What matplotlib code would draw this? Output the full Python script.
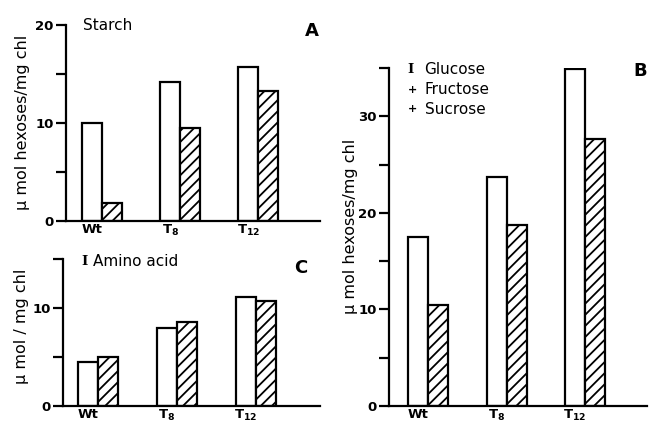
import matplotlib
matplotlib.use("Agg")
import matplotlib.pyplot as plt
import numpy as np

# ---- data ----
groups = ["Wt", r"$\mathbf{T_8}$", r"$\mathbf{T_{12}}$"]
starch_open = [10.0, 14.2, 15.7]
starch_hatch = [1.8, 9.5, 13.3]
sugars_open = [17.5, 23.7, 34.9]
sugars_hatch = [10.5, 18.7, 27.6]
amino_open = [4.5, 8.0, 11.1]
amino_hatch = [5.0, 8.6, 10.7]

plt.rcParams['font.family'] = ['DejaVu Sans', 'DejaVu Sans Mono', 'Noto Sans']
plt.rcParams['hatch.linewidth'] = 1.3
plt.rcParams['mathtext.default'] = 'bf'

fig = plt.figure(figsize=(6.49, 4.22), dpi=100)

W = 0.256  # bar width in group-spacing units
LW = 1.6


def panel(rect, opn, hat, ymax, major, minor, xlim, ylabel):
    ax = fig.add_axes(rect)
    x = np.arange(len(groups))
    ax.bar(x - W / 2, opn, W, color='white', edgecolor='black', linewidth=LW, zorder=2)
    ax.bar(x + W / 2, hat, W, color='white', edgecolor='black', linewidth=LW,
           hatch='///', zorder=2)
    ax.set_xlim(*xlim)
    ax.set_ylim(0, ymax)
    for s in ('top', 'right'):
        ax.spines[s].set_visible(False)
    for s in ('left', 'bottom'):
        ax.spines[s].set_linewidth(LW)
    ax.set_yticks(major)
    ax.set_yticks(minor, minor=True)
    ax.tick_params(axis='y', which='major', length=7, width=LW, labelsize=9.5, pad=2)
    ax.tick_params(axis='y', which='minor', length=7, width=LW)
    ax.set_xticks(x - W / 2)
    ax.set_xticklabels(groups, fontweight='bold', fontsize=9.5)
    ax.tick_params(axis='x', length=0, pad=1.5)
    for t in ax.get_yticklabels():
        t.set_fontweight('bold')
    ax.set_ylabel(ylabel, fontsize=11.5)
    return ax


def ibeam(ax, x, y):
    ax.text(x, y, "I", transform=ax.transAxes, fontsize=9.5, fontweight='bold',
            family='DejaVu Serif', va='center', ha='center')

# Panel A
axA = panel([66/649, 1-221/422, (320-66)/649, 196/422], starch_open, starch_hatch,
            20, [0, 10, 20], [5, 15], (-0.46, 2.79), "μ mol hexoses/mg chl")
axA.text(0.068, 1.0, "Starch", transform=axA.transAxes, fontsize=11, va='center', ha='left')
axA.text(0.995, 0.97, "A", transform=axA.transAxes, fontsize=13, fontweight='bold',
         va='center', ha='right')
axA.yaxis.set_label_coords(-0.14, 0.505)

# Panel C
axC = panel([63/649, 1-406/422, (320-63)/649, 147/422], amino_open, amino_hatch,
            15, [0, 10], [5, 15], (-0.44, 2.81), "μ mol / mg chl")
ibeam(axC, 0.083, 0.985)
axC.text(0.118, 0.985, "Amino acid", transform=axC.transAxes, fontsize=11,
         va='center', ha='left')
axC.text(0.95, 0.94, "C", transform=axC.transAxes, fontsize=13, fontweight='bold',
         va='center', ha='right')
axC.yaxis.set_label_coords(-0.132, 0.54)

# Panel B
axB = panel([389/649, 1-406/422, (647-389)/649, 338/422], sugars_open, sugars_hatch,
            35, [0, 10, 20, 30], [5, 15, 25, 35], (-0.50, 2.79), "μ mol hexoses/mg chl")
ibeam(axB, 0.085, 0.995)
axB.text(0.138, 0.995, "Glucose", transform=axB.transAxes, fontsize=11, va='center', ha='left')
axB.text(0.092, 0.935, "+", transform=axB.transAxes, fontsize=8, fontweight='bold',
         va='center', ha='center')
axB.text(0.138, 0.935, "Fructose", transform=axB.transAxes, fontsize=11, va='center', ha='left')
axB.text(0.092, 0.878, "+", transform=axB.transAxes, fontsize=8, fontweight='bold',
         va='center', ha='center')
axB.text(0.138, 0.878, "Sucrose", transform=axB.transAxes, fontsize=11, va='center', ha='left')
axB.text(1.0, 0.99, "B", transform=axB.transAxes, fontsize=13, fontweight='bold',
         va='center', ha='right')
axB.yaxis.set_label_coords(-0.12, 0.53)

fig.savefig("out.png", dpi=100)
